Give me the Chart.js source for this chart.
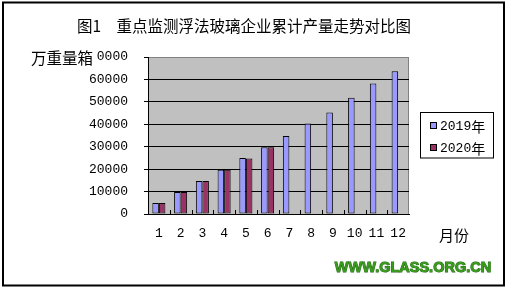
<!DOCTYPE html>
<html>
<head>
<meta charset="utf-8">
<script src="https://cdn.jsdelivr.net/npm/chart.js@4/dist/chart.umd.min.js"></script>
<style>
  html, body { margin: 0; padding: 0; background: #fff; }
  #wrap { position: relative; width: 506px; height: 290px; }
</style>
</head>
<body>
<div id="wrap"><canvas id="chartForGlass" width="506" height="290"></canvas></div>
<script>
var months = ['1', '2', '3', '4', '5', '6', '7', '8', '9', '10', '11', '12'];
var output2019 = [4900, 9800, 14700, 19700, 25000, 29800, 34800, 40300, 45200, 51800, 58200, 63600];
var output2020 = [4900, 9800, 14700, 19700, 24700, 29800, null, null, null, null, null, null];
var yMin = 0;
var yMax = 70000;
var yStep = 10000;

var titleText = '图1\u3000重点监测浮法玻璃企业累计产量走势对比图';
var unitText = '万重量箱';
var xUnitText = '月份';
var siteText = 'WWW.GLASS.ORG.CN';

var numFont = '"Liberation Mono", monospace';
var cjkFont = '"Noto Sans CJK SC", sans-serif';

// 绘图区背景和外框
var decor = {
  id: 'decor',
  beforeDraw: function (chart) {
    var c = chart.ctx;
    var a = chart.chartArea;
    c.save();
    c.fillStyle = '#C0C0C0';
    c.fillRect(a.left, a.top, a.right - a.left, a.bottom - a.top);
    c.strokeStyle = '#808080';
    c.lineWidth = 1;
    c.strokeRect(a.left + 0.5, a.top + 0.5, a.right - a.left - 1, a.bottom - a.top);
    c.restore();
  },
  afterDatasetsDraw: function (chart) {
    // x 轴刻度线（类别分界处，向上）
    var c = chart.ctx;
    var xs = chart.scales.x;
    var a = chart.chartArea;
    var half = (xs.getPixelForValue(1) - xs.getPixelForValue(0)) / 2;
    c.save();
    c.strokeStyle = '#000';
    c.lineWidth = 1;
    for (var i = 1; i < months.length; i++) {
      var x = Math.round(xs.getPixelForValue(i) - half) + 0.5;
      c.beginPath();
      c.moveTo(x, a.bottom - 4);
      c.lineTo(x, a.bottom);
      c.stroke();
    }
    c.restore();
  },
  afterDraw: function (chart) {
    var c = chart.ctx;
    c.save();

    // 标题
    c.fillStyle = '#000';
    c.textBaseline = 'middle';
    c.textAlign = 'center';
    c.font = '15.5px ' + cjkFont;
    c.fillText(titleText, 244, 26);

    // 单位
    c.textAlign = 'left';
    c.fillStyle = '#fff';
    c.fillRect(30, 48, 66, 20);
    c.fillStyle = '#000';
    c.font = '15.5px ' + cjkFont;
    c.fillText(unitText, 31, 58);

    c.font = '15px ' + cjkFont;
    c.fillText(xUnitText, 439, 235);

    // 网址
    c.font = 'bold 14.5px "Liberation Sans", Arial, sans-serif';
    c.textAlign = 'center';
    c.lineWidth = 1;
    c.strokeStyle = '#1f6b12';
    c.strokeText(siteText, 413, 268);
    c.fillStyle = '#3a9a1c';
    c.fillText(siteText, 413, 268);

    // 图例
    c.fillStyle = '#fff';
    c.fillRect(420.5, 112.5, 73, 45.5);
    c.strokeStyle = '#000';
    c.lineWidth = 1;
    c.strokeRect(420.5, 112.5, 73, 45.5);
    var ds = chart.data.datasets;
    var rows = [126, 148];
    c.textAlign = 'left';
    for (var i = 0; i < ds.length; i++) {
      c.fillStyle = ds[i].backgroundColor;
      c.fillRect(430.5, rows[i] - 3.5, 6, 6);
      c.strokeStyle = '#000';
      c.strokeRect(430.5, rows[i] - 3.5, 6, 6);
      c.fillStyle = '#000';
      c.font = '13px ' + numFont;
      c.fillText(ds[i].label.replace('年', ''), 440, rows[i] + 1);
      var w = c.measureText(ds[i].label.replace('年', '')).width;
      c.font = '14px ' + cjkFont;
      c.fillText('年', 440 + w, rows[i] + 1);
    }

    // 外框
    c.strokeStyle = '#000';
    c.lineWidth = 2;
    c.strokeRect(3, 2.5, 501, 283);
    c.restore();
  },
};

var ctx = document.getElementById('chartForGlass');
var chart = new Chart(ctx, {
  type: 'bar',
  data: {
    labels: months,
    datasets: [
      {
        label: '2019年',
        data: output2019,
        backgroundColor: '#9999FF',
        borderColor: '#000',
        borderWidth: 1,
        borderSkipped: false,
        categoryPercentage: 0.6,
        barPercentage: 1.0,
      },
      {
        label: '2020年',
        data: output2020,
        backgroundColor: '#993366',
        borderColor: '#000',
        borderWidth: 1,
        borderSkipped: false,
        categoryPercentage: 0.6,
        barPercentage: 1.0,
      },
    ],
  },
  options: {
    responsive: false,
    animation: false,
    devicePixelRatio: 1,
    layout: {
      padding: { left: 0, top: 57, right: 97, bottom: 0 },
    },
    plugins: {
      legend: { display: false },
      title: { display: false },
      tooltip: { enabled: false },
    },
    scales: {
      x: {
        grid: { display: true, drawOnChartArea: false, drawTicks: false },
        border: { display: true, color: '#000', width: 1 },
        ticks: {
          color: '#000',
          padding: 12,
          maxRotation: 0,
          autoSkip: false,
          font: { family: numFont, size: 13 },
        },
        afterFit: function (scale) {
          scale.height = 76;
        },
      },
      y: {
        min: yMin,
        max: yMax,
        grid: {
          color: function (c) {
            return c.tick && c.tick.value === yMax ? '#808080' : '#000';
          },
          lineWidth: 1,
          tickLength: 4,
          tickColor: '#000',
        },
        border: { display: true, color: '#000', width: 1 },
        ticks: {
          stepSize: yStep,
          color: '#000',
          padding: 16,
          font: { family: numFont, size: 13 },
          callback: function (value) {
            return String(value);
          },
        },
        afterFit: function (scale) {
          scale.width = 148;
        },
      },
    },
  },
  plugins: [decor],
});
</script>
</body>
</html>
